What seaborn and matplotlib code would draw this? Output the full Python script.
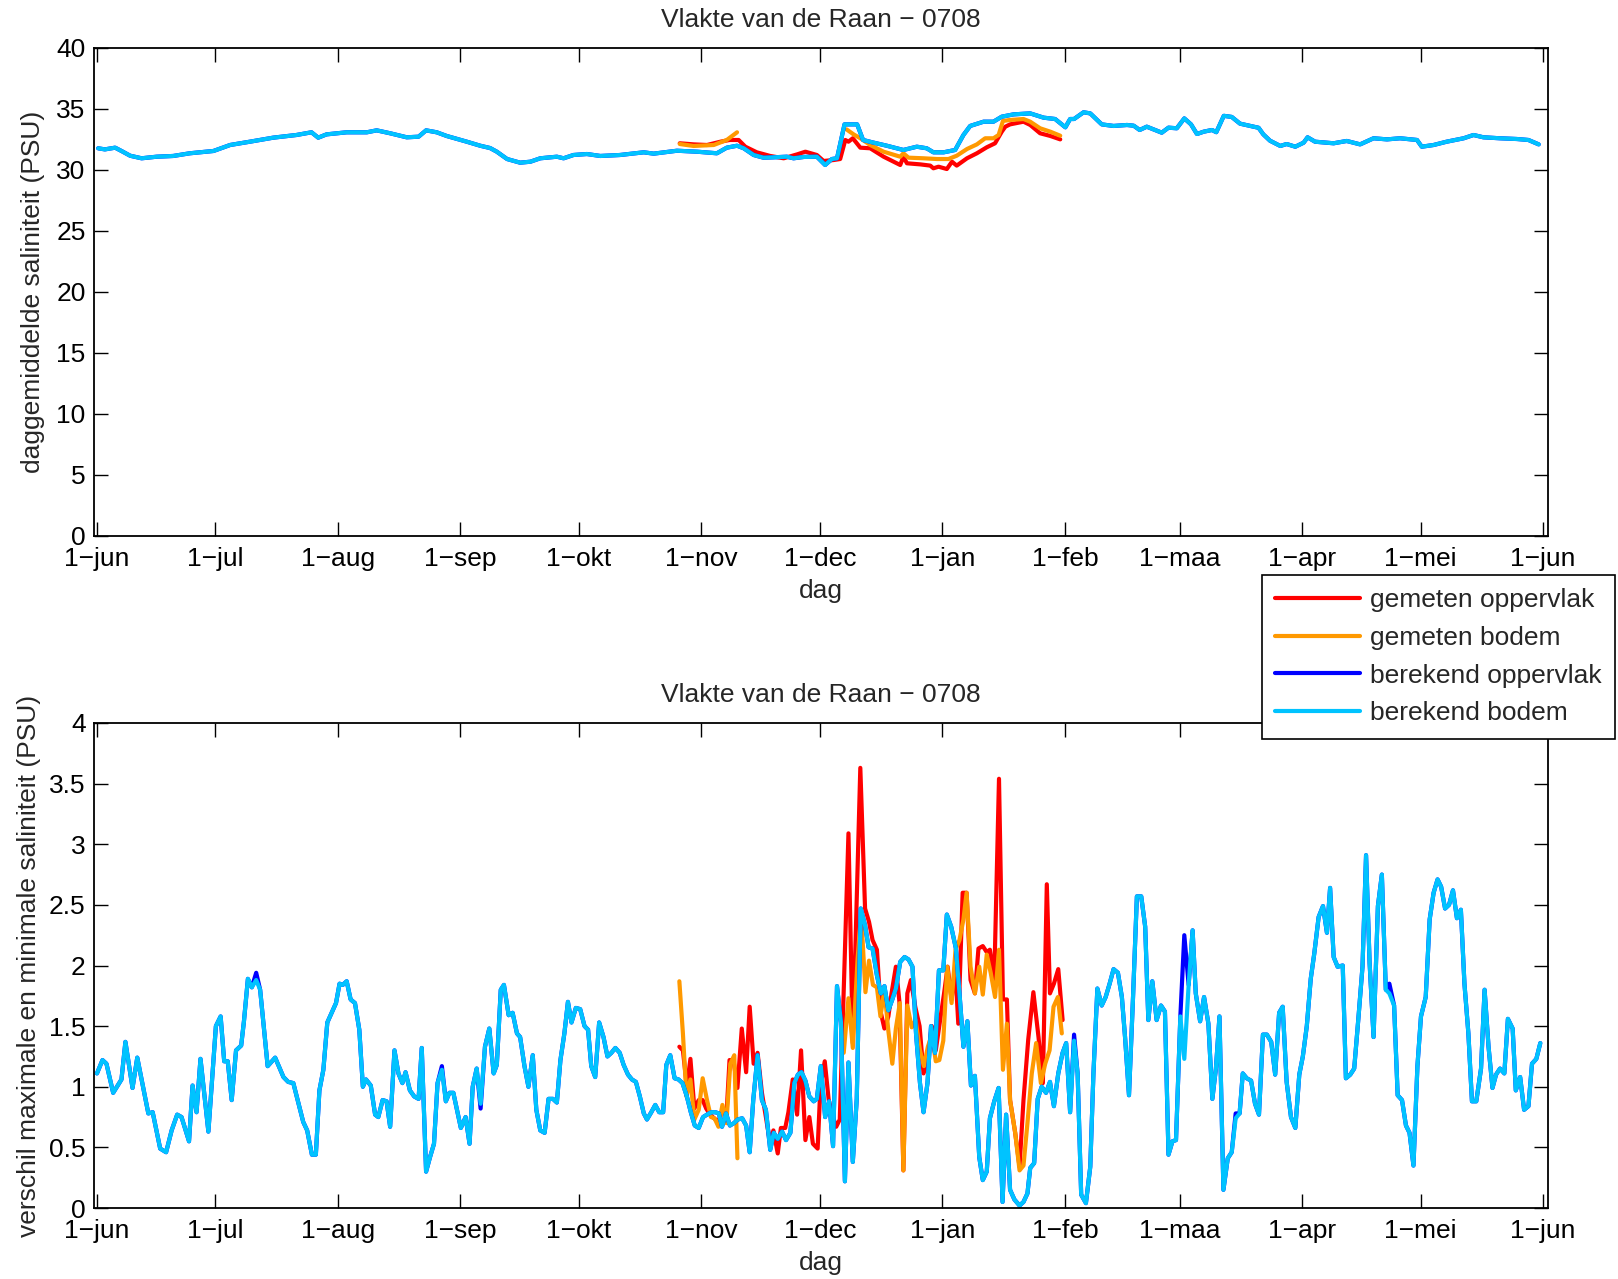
import numpy as np
import pandas as pd
import matplotlib
matplotlib.use('Agg')
import matplotlib.pyplot as plt
from matplotlib.lines import Line2D
from matplotlib.ticker import FuncFormatter
import seaborn as sns

# ---- data, dag 0 = 1 juni 2007 ----
start = pd.Timestamp('2007-06-01')
maand_labels = ['1\u2212jun', '1\u2212jul', '1\u2212aug', '1\u2212sep', '1\u2212okt', '1\u2212nov',
                '1\u2212dec', '1\u2212jan', '1\u2212feb', '1\u2212maa', '1\u2212apr', '1\u2212mei', '1\u2212jun']

# bovenste paneel: daggemiddelde saliniteit
dag_ber_gem = [0.3, 2.0, 4.6, 6.2, 8.4, 11.3, 15.1, 19.3, 23.5, 29.5, 33.7, 38.7, 44.6, 50.5, 54.3,
               56.0, 58.1, 63.2, 68.3, 70.8, 74.2, 78.4, 81.4, 83.3, 86.0, 88.5, 93.6, 97.0, 99.5,
               101.2, 103.8, 107.1, 109.7, 112.2, 116.4, 118.1, 120.6, 124.0, 127.4, 132.4, 138.4,
               140.9, 146.8, 151.9, 156.9, 159.4, 162.0, 163.7, 166.2, 168.7, 171.3, 174.6, 176.3,
               178.9, 182.2, 184.3, 186.0, 187.3, 189.2, 192.4, 193.9, 196.2, 199.9, 204.1, 207.5,
               210.0, 211.7, 214.3, 217.2, 219.3, 221.0, 224.4, 226.9, 229.0, 232.0, 236.2, 239.6,
               242.5, 245.1, 246.3, 247.3, 249.7, 251.4, 254.3, 257.3, 260.7, 262.4, 263.9, 265.7,
               267.4, 269.5, 271.2, 273.3, 275.2, 276.9, 278.4, 280.1, 282.2, 283.3, 285.2, 287.2,
               289.3, 291.9, 294.0, 295.2, 296.9, 299.5, 301.1, 303.3, 305.4, 306.4, 308.3, 313.0,
               316.3, 319.7, 323.1, 326.5, 329.8, 334.1, 335.3, 338.3, 341.6, 345.9, 348.4, 350.9,
               355.1, 359.4, 362.3, 364.9]
ber_bodem_gem = [31.78, 31.69, 31.83, 31.56, 31.17, 30.96, 31.09, 31.15, 31.37, 31.56, 32.05, 32.32,
                 32.65, 32.87, 33.09, 32.65, 32.92, 33.09, 33.09, 33.25, 33.01, 32.68, 32.73, 33.25,
                 33.09, 32.79, 32.32, 31.99, 31.80, 31.50, 30.90, 30.60, 30.68, 30.96, 31.09, 30.96,
                 31.23, 31.31, 31.15, 31.23, 31.45, 31.34, 31.58, 31.50, 31.37, 31.83, 31.99, 31.78,
                 31.23, 31.01, 31.04, 31.09, 30.96, 31.07, 31.09, 30.41, 30.90, 30.96, 33.74, 33.74,
                 32.46, 32.27, 31.99, 31.64, 31.91, 31.78, 31.45, 31.45, 31.64, 32.87, 33.61, 33.96,
                 33.96, 34.37, 34.56, 34.64, 34.29, 34.18, 33.50, 34.18, 34.18, 34.73, 34.64, 33.74,
                 33.61, 33.69, 33.63, 33.28, 33.55, 33.33, 33.06, 33.47, 33.42, 34.23, 33.74, 32.95,
                 33.14, 33.28, 33.10, 34.44, 34.35, 33.80, 33.61, 33.46, 32.92, 32.40, 31.97, 32.13,
                 31.91, 32.24, 32.68, 32.32, 32.19, 32.38, 32.10, 32.60, 32.51, 32.60, 32.46, 31.91,
                 32.05, 32.32, 32.60, 32.87, 32.68, 32.60, 32.54, 32.46, 32.10]
ber_opp_gem = list(ber_bodem_gem)

dag_gem_opp_gem = [147.5, 151.0, 154.4, 157.8, 160.1, 162.4, 164.1, 167.0, 170.4, 173.8, 177.2,
                   179.3, 182.2, 183.9, 186.5, 188.1, 189.4, 190.2, 191.3, 193.2, 195.7, 199.1,
                   203.3, 204.1, 205.0, 208.4, 210.9, 211.7, 213.0, 215.1, 216.4, 217.6, 220.2,
                   222.7, 225.2, 227.3, 229.0, 229.9, 231.1, 234.5, 236.2, 238.7, 241.3, 243.8]
gem_opp_gem = [32.19, 32.10, 32.05, 32.32, 32.46, 32.46, 31.91, 31.45, 31.15, 30.96, 31.28, 31.50,
               31.23, 30.74, 30.82, 30.90, 32.46, 32.32, 32.60, 31.83, 31.78, 31.09, 30.41, 31.09,
               30.55, 30.46, 30.36, 30.14, 30.27, 30.08, 30.68, 30.36, 30.96, 31.37, 31.86, 32.19,
               33.14, 33.55, 33.74, 33.96, 33.69, 33.01, 32.79, 32.51]

dag_gem_bod_gem_1 = [147.5, 151.0, 156.1, 159.4, 162.0]
gem_bod_gem_1 = [32.13, 31.97, 32.05, 32.46, 33.09]
dag_gem_bod_gem_2 = [189.7, 191.5, 193.2, 195.7, 199.1, 203.3, 204.1, 205.4, 209.2, 212.6, 215.5,
                     217.6, 220.2, 222.7, 224.8, 226.9, 228.2, 229.3, 231.1, 234.5, 236.2, 238.7,
                     241.3, 243.8]
gem_bod_gem_2 = [33.33, 32.92, 32.60, 32.05, 31.50, 31.09, 31.37, 31.01, 30.96, 30.90, 30.90, 31.17,
                 31.72, 32.10, 32.60, 32.60, 32.87, 34.02, 34.10, 34.18, 33.96, 33.42, 33.14, 32.81]

# onderste paneel: verschil max - min saliniteit
dag_ber_var = [0.0, 1.4, 2.4, 4.1, 6.2, 7.2, 9.0, 10.2, 13.0, 14.1, 16.0, 17.5, 18.9, 20.3, 21.4,
               23.3, 24.2, 25.2, 26.2, 28.2, 30.1, 31.3, 32.2, 33.1, 34.1, 35.2, 36.5, 37.2, 38.2,
               39.2, 40.3, 41.3, 43.2, 45.1, 47.2, 48.4, 49.7, 52.2, 53.2, 54.4, 55.4, 56.3, 57.3,
               58.3, 60.5, 61.4, 62.2, 63.2, 64.2, 65.3, 66.4, 67.3, 68.1, 69.3, 70.4, 71.2, 72.3,
               73.3, 74.2, 75.3, 76.3, 77.3, 78.1, 79.2, 80.3, 81.4, 82.2, 83.3, 84.3, 85.3, 86.2,
               87.3, 88.3, 89.2, 90.2, 92.1, 93.3, 94.3, 95.1, 96.1, 97.1, 98.2, 99.3, 100.4, 101.2,
               102.2, 103.0, 104.2, 105.2, 106.3, 107.1, 108.2, 109.2, 110.3, 111.2, 112.2, 113.3,
               114.3, 115.4, 116.4, 117.3, 118.3, 119.2, 120.1, 121.2, 122.3, 123.4, 124.3, 125.1,
               126.1, 127.1, 128.2, 129.2, 130.2, 131.2, 132.3, 133.3, 134.4, 135.4, 136.4, 137.4,
               138.4, 139.2, 140.3, 141.3, 142.3, 143.3, 144.1, 145.1, 146.2, 147.2, 148.2, 149.3,
               150.3, 151.3, 152.3, 153.4, 154.4, 155.5, 156.5, 157.4, 158.2, 159.2, 160.2, 161.2,
               162.2, 163.3, 164.3, 165.2, 166.1, 167.2, 168.3, 169.3, 170.4, 171.3, 172.3, 173.4,
               174.4, 175.5, 176.5, 177.4, 178.3, 179.3, 180.3, 181.4, 182.2, 183.2, 184.3, 185.3,
               186.3, 187.3, 188.3, 189.3, 190.2, 191.3, 192.3, 193.3, 194.4, 195.3, 196.3, 197.4,
               198.4, 199.3, 200.3, 201.3, 202.2, 203.3, 204.4, 205.4, 206.4, 207.3, 208.3, 209.2,
               210.2, 211.1, 212.1, 213.1, 214.2, 215.1, 216.2, 217.4, 218.3, 219.3, 220.3, 221.2,
               222.2, 223.3, 224.2, 225.2, 226.0, 227.1, 228.2, 229.2, 230.1, 231.1, 232.2, 233.5,
               234.5, 235.5, 236.2, 237.2, 238.1, 239.1, 240.2, 241.2, 242.2, 243.3, 244.4, 245.3,
               246.3, 247.3, 248.2, 249.1, 250.3, 251.4, 252.2, 253.2, 254.3, 255.3, 256.3, 257.3,
               258.4, 259.4, 260.2, 261.2, 262.2, 263.2, 264.3, 265.3, 266.1, 267.1, 268.2, 269.3,
               270.3, 271.2, 272.2, 273.1, 274.2, 275.2, 276.3, 277.3, 278.1, 279.2, 280.2, 281.3,
               282.3, 283.2, 284.1, 285.1, 286.2, 287.2, 288.2, 289.2, 290.0, 291.0, 292.1, 293.1,
               294.1, 295.1, 296.1, 297.2, 298.2, 299.2, 300.1, 301.1, 302.2, 303.3, 304.3, 305.2,
               306.2, 307.2, 308.1, 309.2, 310.3, 311.3, 312.1, 313.0, 314.0, 315.3, 316.1, 317.2,
               318.2, 319.3, 320.3, 321.2, 322.1, 323.1, 324.2, 325.2, 326.2, 327.1, 328.3, 329.2,
               330.3, 331.3, 332.2, 333.2, 334.2, 335.1, 336.3, 337.3, 338.3, 339.3, 340.2, 341.2,
               342.2, 343.2, 344.2, 345.2, 346.1, 347.1, 348.0, 349.1, 350.3, 351.2, 352.2, 353.2,
               354.1, 355.1, 356.2, 357.1, 358.3, 359.1, 360.2, 361.2, 362.3, 363.2, 364.3, 365.3]
ber_bodem_var = [1.11, 1.22, 1.19, 0.95, 1.06, 1.37, 0.99, 1.24, 0.78, 0.79, 0.49, 0.46, 0.64, 0.77,
                 0.75, 0.55, 1.01, 0.79, 1.23, 0.63, 1.50, 1.58, 1.21, 1.21, 0.89, 1.30, 1.34, 1.54,
                 1.89, 1.82, 1.88, 1.80, 1.17, 1.24, 1.08, 1.04, 1.03, 0.71, 0.64, 0.44, 0.44, 0.97,
                 1.14, 1.53, 1.69, 1.85, 1.84, 1.87, 1.72, 1.69, 1.47, 1.00, 1.06, 1.01, 0.77, 0.75,
                 0.89, 0.88, 0.67, 1.30, 1.11, 1.03, 1.12, 0.97, 0.92, 0.90, 1.32, 0.30, 0.42, 0.53,
                 1.03, 1.14, 0.88, 0.95, 0.95, 0.66, 0.75, 0.53, 1.00, 1.15, 0.86, 1.33, 1.48, 1.11,
                 1.18, 1.80, 1.84, 1.59, 1.61, 1.44, 1.41, 1.17, 1.00, 1.26, 0.81, 0.64, 0.62, 0.90,
                 0.90, 0.87, 1.22, 1.44, 1.70, 1.53, 1.65, 1.64, 1.50, 1.47, 1.17, 1.08, 1.53, 1.41,
                 1.25, 1.28, 1.32, 1.28, 1.18, 1.10, 1.06, 1.04, 0.92, 0.78, 0.73, 0.79, 0.85, 0.79,
                 0.79, 1.18, 1.26, 1.07, 1.06, 1.03, 0.92, 0.79, 0.68, 0.66, 0.75, 0.77, 0.79, 0.79,
                 0.78, 0.67, 0.78, 0.68, 0.70, 0.73, 0.74, 0.68, 0.46, 0.89, 1.26, 0.89, 0.81, 0.48,
                 0.62, 0.57, 0.63, 0.56, 0.62, 1.03, 1.10, 1.12, 1.05, 0.92, 0.88, 0.90, 1.17, 0.75,
                 0.88, 0.51, 1.83, 1.53, 0.22, 1.20, 0.38, 0.90, 2.47, 2.33, 2.15, 2.14, 1.92, 1.77,
                 1.83, 1.63, 1.72, 1.81, 2.03, 2.07, 2.05, 1.99, 1.44, 1.03, 0.79, 1.03, 1.50, 1.28,
                 1.96, 1.96, 2.42, 2.32, 2.14, 1.77, 1.33, 1.54, 1.01, 1.09, 0.42, 0.23, 0.30, 0.74,
                 0.88, 0.99, 0.05, 0.77, 0.15, 0.07, 0.02, 0.05, 0.12, 0.33, 0.37, 0.90, 1.00, 0.95,
                 1.04, 0.84, 1.11, 1.28, 1.36, 0.79, 1.38, 1.11, 0.11, 0.04, 0.34, 1.11, 1.81, 1.67,
                 1.74, 1.85, 1.97, 1.94, 1.74, 1.41, 0.93, 1.72, 2.57, 2.57, 2.32, 1.55, 1.87, 1.55,
                 1.67, 1.62, 0.44, 0.55, 0.56, 1.58, 1.23, 1.84, 2.29, 1.77, 1.54, 1.74, 1.52, 0.90,
                 1.15, 1.58, 0.15, 0.41, 0.46, 0.74, 0.78, 1.11, 1.07, 1.05, 0.86, 0.77, 1.43, 1.43,
                 1.37, 1.10, 1.61, 1.66, 1.04, 0.75, 0.66, 1.10, 1.25, 1.50, 1.89, 2.10, 2.40, 2.49,
                 2.27, 2.64, 2.07, 1.99, 2.00, 1.07, 1.10, 1.15, 1.58, 1.99, 2.91, 2.02, 1.41, 2.49,
                 2.75, 1.80, 1.77, 1.67, 0.93, 0.89, 0.68, 0.62, 0.35, 1.17, 1.58, 1.74, 2.38, 2.60,
                 2.71, 2.65, 2.47, 2.50, 2.62, 2.39, 2.46, 1.85, 1.44, 0.88, 0.88, 1.15, 1.80, 1.33,
                 0.99, 1.10, 1.15, 1.11, 1.56, 1.48, 0.97, 1.08, 0.81, 0.84, 1.19, 1.23, 1.36]
# berekend oppervlak valt bijna overal samen met berekend bodem, behalve op deze dagen
opp_afwijkend_dag = [40.3, 87.3, 97.1, 247.3, 275.2, 288.2, 327.1]
opp_afwijkend_waarde = [1.94, 1.17, 0.82, 1.43, 2.25, 0.78, 1.85]
ber_opp_var = list(ber_bodem_var)
for d, w in zip(opp_afwijkend_dag, opp_afwijkend_waarde):
    ber_opp_var[dag_ber_var.index(d)] = w

dag_gem_opp_var = [147.4, 148.3, 149.3, 150.2, 151.2, 152.3, 153.3, 154.2, 155.2, 156.2, 157.3,
                   158.3, 159.3, 160.1, 161.1, 162.1, 163.2, 164.3, 165.2, 166.2, 167.2, 168.3,
                   169.3, 170.4, 171.2, 172.3, 173.1, 174.2, 175.0, 176.1, 177.2, 178.2, 179.3,
                   180.3, 181.2, 182.4, 183.1, 184.2, 185.2, 186.3, 187.1, 188.0, 189.1, 190.2,
                   191.3, 193.2, 194.4, 195.4, 196.3, 197.4, 198.4, 199.3, 200.3, 201.1, 202.2,
                   203.1, 204.1, 205.1, 206.0, 207.1, 208.2, 209.2, 210.2, 211.3, 212.3, 213.4,
                   214.4, 215.3, 216.3, 217.2, 218.0, 219.1, 220.1, 221.1, 222.2, 223.1, 224.2,
                   225.2, 226.0, 227.1, 228.3, 229.3, 230.3, 231.1, 232.4, 233.5, 234.5, 235.7,
                   237.0, 238.3, 239.4, 240.4, 241.2, 242.2, 243.3, 244.4]
gem_opp_var = [1.33, 1.30, 1.00, 1.23, 0.82, 0.89, 0.89, 0.82, 0.77, 0.74, 0.71, 0.81, 0.75, 1.22,
               1.22, 0.99, 1.48, 1.12, 1.66, 1.19, 1.28, 0.95, 0.75, 0.53, 0.64, 0.45, 0.66, 0.66,
               0.79, 1.06, 0.77, 1.30, 0.56, 0.75, 0.53, 0.49, 1.00, 1.21, 0.89, 0.75, 0.67, 0.73,
               1.90, 3.09, 1.36, 3.63, 2.47, 2.36, 2.21, 2.13, 1.61, 1.48, 1.58, 1.77, 1.99, 1.70,
               0.31, 1.77, 1.88, 1.66, 1.50, 1.11, 1.22, 1.50, 1.30, 1.55, 1.77, 1.99, 1.72, 1.99,
               1.52, 2.60, 2.60, 1.88, 1.77, 2.14, 2.16, 2.11, 2.13, 1.88, 3.54, 1.72, 1.72, 0.89,
               0.62, 0.34, 0.89, 1.39, 1.78, 1.41, 1.03, 2.67, 1.77, 1.85, 1.97, 1.55]

dag_gem_bod_var_1 = [147.4, 148.3, 149.2, 150.2, 151.2, 152.3, 153.3, 154.4, 155.4, 156.3, 157.3,
                     158.3, 159.3, 160.3, 161.3, 162.1]
gem_bod_var_1 = [1.87, 1.44, 0.92, 1.06, 0.73, 0.81, 1.07, 0.89, 0.75, 0.74, 0.67, 0.85, 0.70,
                 1.19, 1.26, 0.41]
dag_gem_bod_var_2 = [189.0, 190.2, 191.3, 192.5, 193.4, 194.5, 195.4, 196.4, 197.4, 198.3, 199.3,
                     200.3, 201.3, 202.2, 203.2, 204.1, 205.1, 206.2, 207.2, 208.3, 209.3, 210.3,
                     211.3, 212.3, 213.2, 214.2, 215.2, 216.3, 217.3, 218.3, 219.3, 220.1, 221.1,
                     222.2, 223.3, 224.2, 225.2, 226.2, 227.3, 228.3, 229.3, 230.3, 231.1, 232.4,
                     233.5, 234.5, 235.5, 236.6, 237.7, 238.9, 240.0, 241.1, 242.1, 243.2, 244.2]
gem_bod_var_2 = [1.28, 1.73, 1.32, 2.05, 2.43, 1.78, 2.04, 1.84, 1.82, 1.58, 1.80, 1.46, 1.19, 1.48,
                 1.69, 0.31, 1.67, 1.49, 1.55, 1.30, 1.17, 1.33, 1.43, 1.21, 1.22, 1.38, 1.99, 1.69,
                 2.13, 2.21, 2.38, 2.60, 1.99, 1.77, 1.99, 1.76, 2.09, 1.94, 1.74, 2.13, 1.14, 1.52,
                 0.89, 0.62, 0.31, 0.35, 0.70, 1.11, 1.36, 1.03, 1.19, 1.30, 1.66, 1.74, 1.44]

kleuren = {'gemeten oppervlak': '#ff0000', 'gemeten bodem': '#ff9900',
           'berekend oppervlak': '#0000ff', 'berekend bodem': '#00c3ff'}


def datums(dagen):
    return start + pd.to_timedelta(np.asarray(dagen, dtype=float), unit='D')


sns.set_style('ticks')
plt.rcParams['font.family'] = ['Liberation Sans', 'DejaVu Sans']
plt.rcParams['axes.unicode_minus'] = True

fs = 19
fig = plt.figure(figsize=(16.18, 12.79), dpi=100)
ax1 = fig.add_axes([94 / 1618, 1 - 536 / 1279, 1454 / 1618, 488 / 1279])
ax2 = fig.add_axes([94 / 1618, 1 - 1208 / 1279, 1454 / 1618, 485 / 1279])

lw = 3.0
panelen = [
    (ax1, [(dag_gem_opp_gem, gem_opp_gem, 'gemeten oppervlak'),
           (dag_gem_bod_gem_1, gem_bod_gem_1, 'gemeten bodem'),
           (dag_gem_bod_gem_2, gem_bod_gem_2, 'gemeten bodem'),
           (dag_ber_gem, ber_opp_gem, 'berekend oppervlak'),
           (dag_ber_gem, ber_bodem_gem, 'berekend bodem')]),
    (ax2, [(dag_gem_opp_var, gem_opp_var, 'gemeten oppervlak'),
           (dag_gem_bod_var_1, gem_bod_var_1, 'gemeten bodem'),
           (dag_gem_bod_var_2, gem_bod_var_2, 'gemeten bodem'),
           (dag_ber_var, ber_opp_var, 'berekend oppervlak'),
           (dag_ber_var, ber_bodem_var, 'berekend bodem')]),
]
for ax, reeksen in panelen:
    for dagen, waarden, naam in reeksen:
        sns.lineplot(x=datums(dagen), y=waarden, ax=ax, color=kleuren[naam], lw=lw,
                     legend=False, estimator=None)

maanden = pd.date_range('2007-06-01', '2008-06-01', freq='MS')
for ax in (ax1, ax2):
    ax.set_xlim(start - pd.Timedelta(days=0.75), start + pd.Timedelta(days=367.25))
    ax.set_xticks(maanden)
    ax.set_xticklabels(maand_labels)
    ax.tick_params(direction='in', length=10, width=1, top=True, right=True,
                   labelsize=fs, colors='black')
    ax.tick_params(axis='x', pad=8)
    ax.tick_params(axis='y', pad=6)
    for sp in ax.spines.values():
        sp.set_visible(True)
        sp.set_color('black')
        sp.set_linewidth(1.3)
    ax.set_title('Vlakte van de Raan \u2212 0708', fontsize=fs, pad=15)
    ax.set_xlabel('dag', fontsize=fs, labelpad=6)
    ax.yaxis.set_major_formatter(FuncFormatter(lambda v, p: f'{v:g}'))

ax1.set_ylim(0, 40)
ax1.set_yticks(range(0, 41, 5))
ax1.set_ylabel('daggemiddelde saliniteit (PSU)', fontsize=fs, labelpad=8)
ax2.set_ylim(0, 4)
ax2.set_yticks(np.arange(0, 4.01, 0.5))
ax2.set_ylabel('verschil maximale en minimale saliniteit (PSU)', fontsize=fs, labelpad=6)

handles = [Line2D([], [], color=c, lw=lw) for c in kleuren.values()]
leg = fig.legend(handles, list(kleuren.keys()), loc='upper left',
                 bbox_to_anchor=(1262 / 1618, 1 - 575 / 1279), bbox_transform=fig.transFigure,
                 fontsize=fs, frameon=True, fancybox=False, framealpha=1, edgecolor='black',
                 handlelength=3.2, handletextpad=0.4, labelspacing=0.52, borderpad=0.5,
                 borderaxespad=0)
leg.get_frame().set_linewidth(1.2)

fig.savefig('out.png', dpi=100, facecolor='white')
